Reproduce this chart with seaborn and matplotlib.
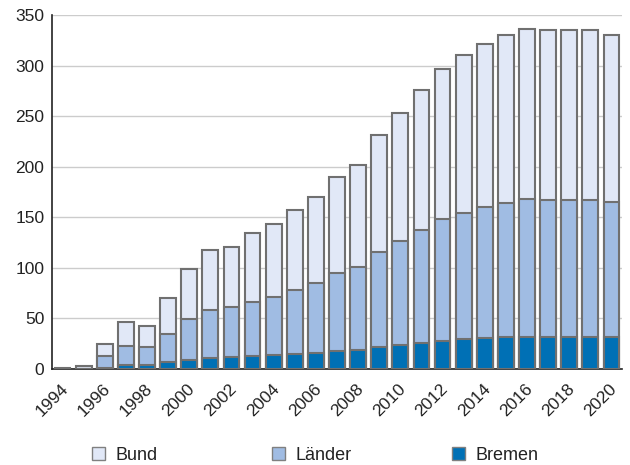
import numpy as np
import pandas as pd
import matplotlib
matplotlib.use('Agg')
import matplotlib.pyplot as plt
from matplotlib.patches import Patch
import seaborn as sns

# Data
years = list(range(1994, 2021))
bremen = [0, 0, 1, 4, 4, 7, 9, 10.5, 11.5, 13, 14, 15, 16, 18, 19, 22, 24, 26, 28, 30,
          31, 32, 32, 32, 32, 32, 32]
laender = [0, 0, 12, 19, 17.5, 28, 40.5, 47.5, 49.5, 53.5, 57.5, 63, 69.5, 76.5, 82, 93.5,
           103, 111.5, 120, 124.5, 129.5, 132.5, 136, 135, 135, 135, 133]
bund = [1, 3, 12, 23, 21.5, 35, 49.5, 60, 60, 67.5, 71.5, 79, 84.5, 95.5, 101, 115.5,
        126, 138.5, 149, 155.5, 160.5, 165.5, 168, 168, 168, 168, 165]
series_names = ['Bund', 'Länder', 'Bremen']
colors = ['#e1e8f7', '#a0bce3', '#0070b5']

sns.set_theme(style='white')
plt.rcParams['font.family'] = ['Liberation Sans', 'DejaVu Sans']

df = pd.DataFrame({'year': [str(y) for y in years], 'Bremen': bremen,
                   'Länder': laender, 'Bund': bund})
df['top_bremen'] = df['Bremen']
df['top_laender'] = df['Bremen'] + df['Länder']
df['top_bund'] = df['top_laender'] + df['Bund']

fig = plt.figure(figsize=(6.3, 4.65), dpi=100)
ax = fig.add_axes([52 / 630, 1 - 369 / 465, 570 / 630, 354 / 465])

edge = '#707070'
for col, c in zip(['top_bund', 'top_laender', 'top_bremen'], colors):
    sns.barplot(data=df, x='year', y=col, color=c, saturation=1, width=0.75,
                edgecolor=edge, linewidth=1.5, ax=ax, zorder=3)

n = len(years)
ax.set_xlim(-0.5, n - 0.5)
ax.set_ylim(0, 350)
ax.set_yticks(np.arange(0, 351, 50))
ax.set_xticks(np.arange(n + 1) - 0.5)
labels = []
for i in range(n + 1):
    labels.append(str(1994 + i) if i % 2 == 0 and (1994 + i) <= 2020 else '')
ax.set_xticklabels(labels, rotation=45, ha='center')
ax.set_xlabel('')
ax.set_ylabel('')

ax.yaxis.grid(True, color='#cccccc', linewidth=1, zorder=0)
ax.xaxis.grid(False)
for s in ['top', 'right']:
    ax.spines[s].set_visible(False)
for s in ['left', 'bottom']:
    ax.spines[s].set_color('#222222')
    ax.spines[s].set_linewidth(1.2)
ax.tick_params(axis='both', direction='inout', length=7, width=1.2, color='#222222',
               labelsize=12.5, labelcolor='#222222')
ax.tick_params(axis='x', pad=5)
ax.tick_params(axis='y', pad=2)
ax.set_axisbelow(True)

# legend: three separate entries spread across the bottom
legend_x = [92, 272, 452]
for name, c, x in zip(series_names, colors, legend_x):
    h = Patch(facecolor=c, edgecolor='#808080', linewidth=1)
    fig.legend(handles=[h], labels=[name], loc='center left',
               bbox_to_anchor=(x / 630, 1 - 455 / 465), frameon=False,
               fontsize=13, handlelength=0.7, handleheight=0.7,
               handletextpad=0.6, borderpad=0, borderaxespad=0, labelcolor='#222222')

plt.savefig('out.png', dpi=100)
plt.close()
